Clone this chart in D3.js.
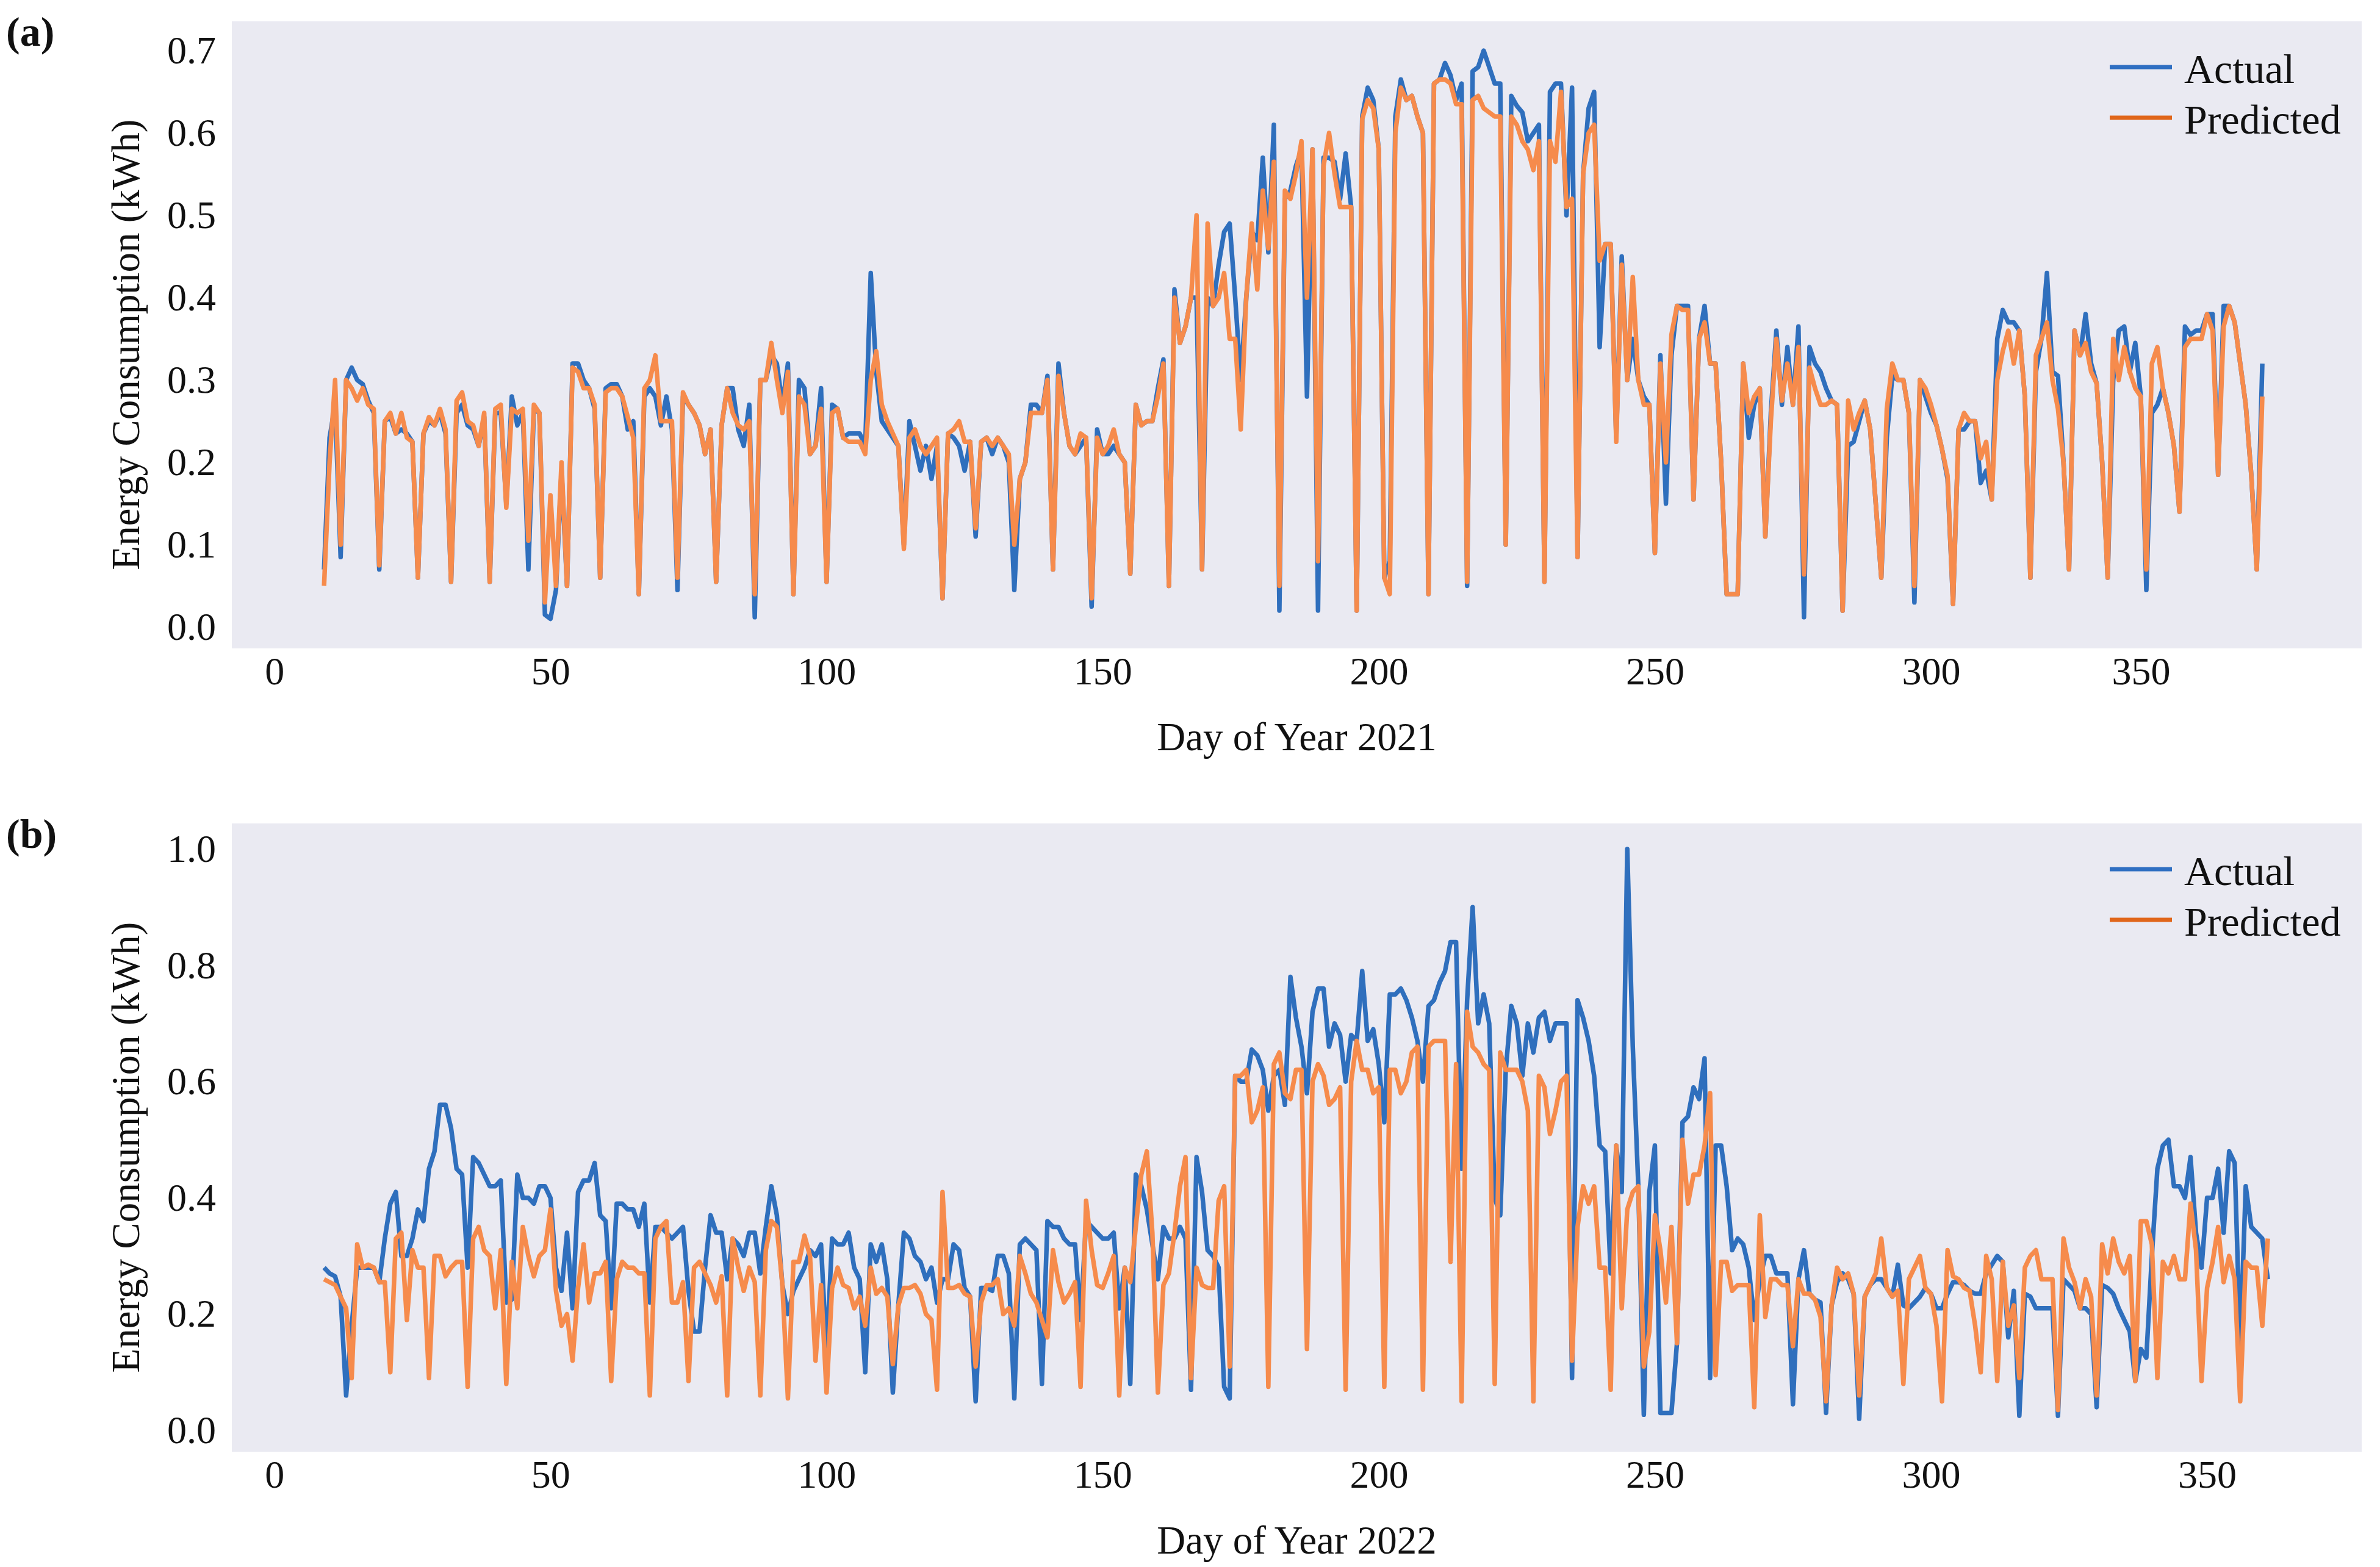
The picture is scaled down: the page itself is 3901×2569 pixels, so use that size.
<!DOCTYPE html>
<html>
<head>
<meta charset="utf-8">
<script src="https://cdn.jsdelivr.net/npm/d3@7"></script>
<style>
  html, body { margin: 0; padding: 0; background: #fff; }
  svg text { font-family: "Times New Roman", Times, "Liberation Serif", "DejaVu Serif", serif; fill: #111; }
</style>
</head>
<body>
<svg id="chart" width="3901" height="2569"></svg>
<script>
  // ===== data (one value per day) =====
  var START_DAY = 9;

  // panel (a) 2021
  var actual2021 = [
    .07,.23,.27,.085,.30,.315,.30,.295,.275,.26,
    .07,.25,.255,.235,.24,.235,.225,.06,.235,.25,
    .245,.26,.235,.055,.26,.27,.245,.24,.22,.255,
    .055,.26,.26,.15,.28,.245,.26,.07,.265,.26,
    .015,.01,.045,.19,.05,.32,.32,.30,.29,.265,
    .06,.29,.295,.295,.28,.24,.25,.04,.28,.29,
    .28,.245,.28,.24,.045,.28,.27,.26,.245,.21,
    .24,.055,.245,.29,.29,.24,.22,.27,.012,.30,
    .30,.33,.32,.27,.32,.04,.30,.29,.21,.22,
    .29,.055,.27,.265,.23,.235,.235,.235,.22,.43,
    .31,.25,.24,.23,.22,.10,.25,.22,.19,.22,
    .18,.22,.035,.235,.23,.22,.19,.225,.11,.225,
    .23,.21,.23,.22,.20,.045,.18,.20,.27,.27,
    .26,.305,.07,.32,.26,.22,.21,.22,.23,.025,
    .24,.21,.21,.22,.21,.20,.065,.27,.245,.25,
    .25,.29,.325,.05,.41,.345,.365,.40,.40,.07,
    .40,.39,.44,.48,.49,.40,.30,.40,.48,.47,
    .57,.455,.61,.02,.52,.53,.56,.58,.28,.58,
    .02,.57,.57,.565,.52,.575,.51,.02,.62,.655,
    .64,.58,.06,.08,.62,.665,.64,.645,.62,.60,
    .04,.66,.665,.685,.67,.64,.66,.05,.675,.68,
    .70,.68,.66,.66,.10,.645,.633,.625,.59,.60,
    .61,.055,.65,.66,.66,.50,.655,.085,.55,.63,
    .65,.34,.465,.465,.23,.45,.30,.35,.30,.28,
    .27,.09,.33,.15,.33,.39,.39,.39,.155,.35,
    .39,.32,.32,.20,.04,.04,.04,.32,.23,.27,
    .29,.11,.26,.36,.27,.34,.27,.365,.012,.34,
    .32,.31,.29,.275,.27,.02,.22,.225,.25,.275,
    .24,.15,.06,.23,.305,.30,.30,.26,.03,.30,
    .28,.26,.245,.216,.18,.028,.24,.24,.25,.25,
    .175,.19,.155,.35,.385,.37,.37,.36,.28,.06,
    .31,.35,.43,.31,.305,.20,.07,.36,.33,.38,
    .32,.296,.20,.06,.30,.36,.365,.31,.345,.28,
    .045,.26,.27,.29,.26,.22,.14,.365,.355,.36,
    .36,.38,.38,.185,.39,.39,.37,.32,.27,.185,
    .07,.32
  ];
  var predicted2021 = [
    .05,.20,.30,.10,.30,.29,.275,.29,.27,.265,
    .075,.25,.26,.235,.26,.23,.225,.06,.235,.255,
    .245,.265,.24,.055,.275,.285,.25,.245,.22,.26,
    .055,.265,.27,.145,.265,.26,.265,.105,.27,.26,
    .03,.16,.05,.20,.05,.315,.31,.29,.29,.27,
    .06,.285,.29,.29,.28,.255,.23,.04,.29,.30,
    .33,.25,.25,.25,.06,.285,.27,.26,.245,.21,
    .24,.055,.245,.29,.26,.245,.24,.25,.04,.30,
    .30,.345,.30,.26,.31,.04,.28,.27,.21,.22,
    .265,.055,.26,.265,.23,.225,.225,.225,.21,.30,
    .335,.27,.25,.235,.22,.095,.23,.24,.22,.21,
    .22,.23,.035,.235,.24,.25,.225,.225,.12,.225,
    .23,.22,.23,.22,.21,.10,.18,.20,.26,.26,
    .26,.30,.07,.305,.26,.22,.21,.235,.23,.035,
    .23,.21,.22,.24,.21,.20,.065,.27,.245,.25,
    .25,.28,.32,.05,.40,.345,.365,.40,.50,.07,
    .49,.39,.40,.43,.35,.35,.24,.40,.49,.41,
    .53,.46,.565,.05,.53,.52,.55,.59,.40,.58,
    .08,.56,.60,.55,.51,.51,.51,.02,.617,.64,
    .63,.58,.06,.04,.60,.655,.64,.645,.62,.60,
    .04,.66,.665,.665,.66,.635,.635,.055,.64,.645,
    .63,.625,.62,.62,.10,.62,.61,.59,.58,.555,
    .59,.055,.59,.565,.65,.51,.52,.085,.55,.60,
    .61,.445,.465,.465,.225,.44,.30,.425,.30,.27,
    .27,.09,.32,.20,.355,.39,.385,.385,.155,.35,
    .37,.32,.32,.20,.04,.04,.04,.32,.26,.28,
    .29,.11,.25,.35,.275,.32,.27,.34,.064,.315,
    .29,.27,.27,.275,.27,.02,.275,.24,.26,.275,
    .24,.15,.06,.265,.32,.30,.30,.26,.05,.30,
    .29,.27,.245,.216,.184,.028,.24,.26,.25,.25,
    .205,.225,.155,.30,.335,.36,.32,.36,.28,.06,
    .33,.35,.37,.30,.265,.20,.07,.36,.33,.345,
    .31,.296,.20,.06,.35,.30,.34,.31,.29,.28,
    .07,.32,.34,.29,.26,.22,.14,.34,.35,.35,
    .35,.38,.36,.185,.365,.39,.37,.32,.27,.185,
    .07,.28
  ];

  // panel (b) 2022
  var actual2022 = [
    .28,.27,.265,.23,.06,.18,.28,.28,.28,.28,
    .255,.33,.39,.41,.30,.30,.33,.38,.36,.45,
    .48,.56,.56,.52,.45,.44,.28,.47,.46,.44,
    .42,.42,.43,.22,.225,.44,.40,.40,.39,.42,
    .42,.40,.28,.24,.34,.21,.41,.43,.43,.46,
    .37,.36,.21,.39,.39,.38,.38,.35,.39,.22,
    .35,.35,.34,.33,.34,.35,.24,.17,.17,.28,
    .37,.34,.34,.26,.33,.32,.30,.34,.34,.27,
    .35,.42,.37,.25,.20,.24,.26,.28,.31,.30,
    .32,.13,.33,.32,.32,.34,.28,.26,.10,.32,
    .29,.32,.26,.065,.215,.34,.33,.30,.29,.26,
    .28,.22,.26,.26,.32,.31,.245,.23,.05,.245,
    .245,.24,.30,.30,.27,.055,.32,.33,.32,.31,
    .08,.36,.35,.35,.33,.32,.32,.19,.36,.35,
    .34,.33,.33,.34,.21,.28,.08,.44,.42,.38,
    .32,.26,.35,.33,.33,.35,.33,.07,.47,.41,
    .31,.30,.28,.075,.055,.61,.60,.60,.655,.645,
    .62,.55,.61,.62,.56,.78,.71,.66,.58,.72,
    .76,.76,.66,.70,.68,.60,.68,.67,.79,.67,
    .69,.63,.53,.75,.75,.76,.74,.71,.67,.60,
    .73,.74,.77,.79,.84,.84,.45,.74,.90,.70,
    .75,.70,.40,.37,.62,.73,.70,.61,.70,.65,
    .71,.72,.67,.70,.70,.70,.09,.74,.71,.67,
    .61,.49,.48,.27,.49,.41,1.0,.66,.42,.027,
    .41,.49,.03,.03,.03,.15,.53,.54,.59,.57,
    .64,.09,.49,.49,.42,.31,.33,.32,.28,.19,
    .26,.30,.30,.27,.27,.27,.045,.26,.31,.235,
    .225,.22,.03,.215,.255,.27,.26,.235,.02,.23,
    .25,.26,.26,.245,.23,.285,.215,.21,.22,.23,
    .245,.235,.21,.21,.235,.255,.255,.25,.24,.235,
    .235,.27,.285,.30,.29,.16,.24,.025,.235,.23,
    .21,.21,.21,.21,.025,.26,.25,.24,.21,.21,
    .20,.04,.25,.245,.235,.21,.19,.17,.085,.14,
    .125,.30,.45,.49,.50,.42,.42,.40,.47,.34,
    .28,.40,.40,.45,.34,.48,.46,.145,.42,.35,
    .34,.33,.26
  ];
  var predicted2022 = [
    .26,.255,.25,.23,.21,.09,.32,.28,.285,.28,
    .255,.255,.10,.33,.34,.19,.31,.28,.28,.09,
    .30,.30,.265,.28,.29,.29,.075,.33,.35,.31,
    .30,.21,.31,.08,.29,.21,.35,.30,.265,.30,
    .31,.38,.24,.18,.20,.12,.245,.32,.22,.27,
    .27,.29,.085,.26,.29,.28,.28,.27,.27,.06,
    .33,.35,.36,.22,.22,.255,.085,.28,.29,.27,
    .25,.22,.265,.06,.33,.28,.24,.28,.255,.06,
    .31,.36,.35,.25,.055,.29,.29,.335,.30,.12,
    .25,.065,.245,.28,.25,.245,.21,.23,.18,.28,
    .235,.245,.23,.114,.215,.245,.245,.25,.235,.20,
    .19,.07,.41,.245,.245,.25,.235,.23,.11,.22,
    .25,.25,.26,.20,.21,.18,.30,.27,.235,.22,
    .19,.16,.31,.255,.22,.235,.255,.075,.395,.31,
    .25,.245,.27,.30,.06,.28,.255,.35,.44,.48,
    .34,.065,.25,.27,.34,.42,.47,.09,.28,.25,
    .245,.245,.395,.42,.11,.61,.61,.62,.53,.55,
    .59,.075,.63,.65,.58,.57,.62,.62,.14,.60,
    .63,.61,.56,.57,.59,.07,.60,.67,.62,.62,
    .58,.59,.075,.62,.62,.58,.60,.65,.66,.07,
    .66,.67,.67,.67,.29,.63,.05,.72,.66,.65,
    .63,.62,.08,.65,.62,.62,.62,.60,.55,.05,
    .61,.59,.51,.55,.60,.61,.12,.35,.42,.39,
    .42,.28,.28,.07,.49,.21,.38,.41,.42,.11,
    .17,.37,.31,.22,.35,.15,.50,.39,.44,.44,
    .49,.58,.095,.29,.29,.24,.25,.25,.25,.04,
    .37,.195,.26,.26,.25,.25,.145,.26,.235,.235,
    .225,.195,.05,.215,.28,.26,.27,.235,.06,.23,
    .25,.27,.33,.245,.23,.24,.08,.26,.28,.30,
    .245,.235,.18,.05,.31,.265,.26,.245,.24,.18,
    .10,.30,.26,.085,.29,.18,.215,.09,.28,.30,
    .31,.26,.26,.26,.035,.33,.28,.255,.21,.26,
    .23,.06,.32,.27,.33,.29,.27,.30,.085,.36,
    .36,.32,.09,.29,.27,.30,.26,.26,.39,.31,
    .085,.245,.29,.35,.255,.30,.26,.05,.29,.28,
    .28,.18,.33
  ];

  // tick values and labels (panel a's last label sits left of 350 in the original)
  var xTickDaysA = [0, 50, 100, 150, 200, 250, 300, 338];
  var xTickDaysB = [0, 50, 100, 150, 200, 250, 300, 350];
  var xTickLabels = ['0', '50', '100', '150', '200', '250', '300', '350'];
  var yTicksA = [0, 0.1, 0.2, 0.3, 0.4, 0.5, 0.6, 0.7];
  var yTicksB = [0, 0.2, 0.4, 0.6, 0.8, 1.0];
  var seriesNames = ['Actual', 'Predicted'];

  // ===== style =====
  var FONT = '"Times New Roman", Times, "Liberation Serif", "DejaVu Serif", serif';
  var COLORS = { line: ['#2f6fbd', '#f68b4c'], legend: ['#2f6fc2', '#e0661a'] };
  var BG = '#eaeaf2';

  var svg = d3.select('#chart');

  function toPoints(values) {
    return values.map(function (v, i) { return { day: START_DAY + i, value: v }; });
  }

  function drawPanel(opt) {
    var top = opt.top, bottom = opt.bottom;
    var left = 380, right = 3871;

    var x = d3.scaleLinear().domain([-7.7, 378]).range([left, right]);
    var y = d3.scaleLinear().domain(opt.yDomain).range([bottom, top]);

    var g = svg.append('g').attr('font-family', FONT);

    g.append('rect')
      .attr('x', left).attr('y', top)
      .attr('width', right - left).attr('height', bottom - top)
      .attr('fill', BG);

    // y axis
    var yAxis = g.append('g')
      .attr('transform', 'translate(' + left + ',0)')
      .call(d3.axisLeft(y).tickValues(opt.yTicks).tickFormat(d3.format('.1f')).tickSize(0).tickPadding(26));
    yAxis.attr('font-family', FONT).attr('font-size', 64);
    yAxis.select('.domain').remove();
    yAxis.selectAll('text').style('font-family', FONT).attr('fill', '#111');

    // x axis
    var xAxis = g.append('g')
      .attr('transform', 'translate(0,' + bottom + ')')
      .call(d3.axisBottom(x).tickValues(opt.xTicks)
        .tickFormat(function (d, i) { return xTickLabels[i]; })
        .tickSize(0).tickPadding(14));
    xAxis.attr('font-family', FONT).attr('font-size', 64);
    xAxis.select('.domain').remove();
    xAxis.selectAll('text').style('font-family', FONT).attr('fill', '#111');

    // lines
    var line = d3.line()
      .x(function (d) { return x(d.day); })
      .y(function (d) { return y(d.value); });

    [opt.actual, opt.predicted].forEach(function (vals, k) {
      g.append('path')
        .datum(toPoints(vals))
        .attr('d', line)
        .attr('fill', 'none')
        .attr('stroke', COLORS.line[k])
        .attr('stroke-width', 7.5)
        .attr('stroke-linejoin', 'round');
    });

    // legend
    seriesNames.forEach(function (name, k) {
      var ly = top + 75 + k * 83;
      g.append('line')
        .attr('x1', 3458).attr('x2', 3560)
        .attr('y1', ly).attr('y2', ly)
        .attr('stroke', COLORS.legend[k]).attr('stroke-width', 7);
      g.append('text')
        .attr('x', 3580).attr('y', ly + 26)
        .style('font-family', FONT)
        .style('font-size', '68px')
        .text(name);
    });

    // axis titles
    g.append('text')
      .attr('x', (left + right) / 2).attr('y', bottom + 167)
      .attr('text-anchor', 'middle')
      .style('font-family', FONT)
      .style('font-size', '65px')
      .text(opt.xTitle);

    g.append('text')
      .attr('transform', 'translate(228,' + ((top + bottom) / 2 + 16) + ') rotate(-90)')
      .attr('text-anchor', 'middle')
      .style('font-family', FONT)
      .style('font-size', '65px')
      .text('Energy Consumption (kWh)');

    // panel letter
    g.append('text')
      .attr('x', 10).attr('y', top + 40)
      .style('font-family', FONT)
      .style('font-size', '68px')
      .style('font-weight', 'bold')
      .text(opt.letter);
  }

  drawPanel({
    top: 35, bottom: 1063,
    yDomain: [-0.0259, 0.7356],
    yTicks: yTicksA, xTicks: xTickDaysA,
    actual: actual2021, predicted: predicted2021,
    xTitle: 'Day of Year 2021', letter: '(a)'
  });

  drawPanel({
    top: 1350, bottom: 2380,
    yDomain: [-0.0367, 1.044],
    yTicks: yTicksB, xTicks: xTickDaysB,
    actual: actual2022, predicted: predicted2022,
    xTitle: 'Day of Year 2022', letter: '(b)'
  });
</script>
</body>
</html>
